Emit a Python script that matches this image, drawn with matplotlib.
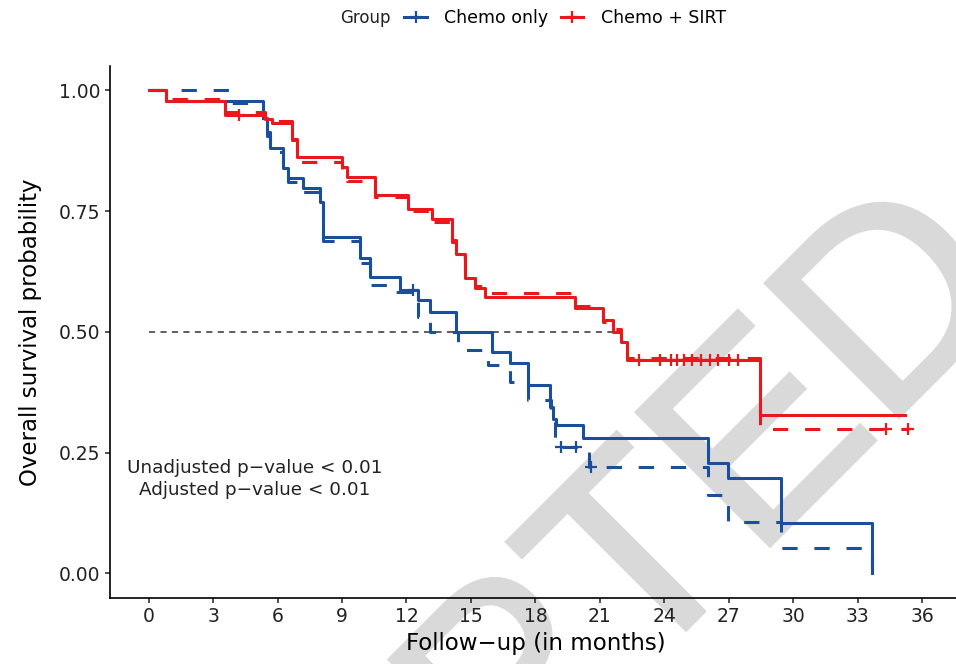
import matplotlib
matplotlib.use("Agg")
import matplotlib.pyplot as plt
import matplotlib.patheffects as pe
from matplotlib.lines import Line2D

blue = "#1a4f9b"
red = "#e8181d"

# Chemo only - unadjusted KM steps (time in months, survival)
chemo_t = [0, 0.8, 5.34, 5.5, 5.65, 6.27, 6.5, 7.2, 7.98, 8.13, 9.84, 10.3, 11.7, 12.55,
           13.1, 14.3, 15.96, 16.8, 17.67, 18.67, 18.8, 18.95, 20.2, 26.04, 26.95, 29.4, 33.64]
chemo_s = [1.0, 0.978, 0.942, 0.914, 0.88, 0.838, 0.818, 0.797, 0.769, 0.697, 0.652, 0.614, 0.587, 0.566,
           0.542, 0.5, 0.459, 0.435, 0.39, 0.345, 0.32, 0.307, 0.2795, 0.228, 0.197, 0.1035, 0.0]
chemo_cens_t = [12.3]
chemo_cens_s = [0.587]

# Chemo only - adjusted
chemo_adj_t = [0, 3.8, 5.34, 5.5, 5.65, 6.27, 6.5, 7.2, 7.98, 8.13, 9.84, 10.3, 11.3, 12.55,
               13.1, 14.4, 15.8, 16.8, 17.67, 18.7, 18.9, 20.5, 26.04, 26.95, 29.4, 33.64]
chemo_adj_s = [1.0, 0.973, 0.937, 0.906, 0.872, 0.83, 0.81, 0.789, 0.76, 0.687, 0.642, 0.597, 0.583, 0.531,
               0.5, 0.462, 0.432, 0.397, 0.36, 0.32, 0.262, 0.221, 0.162, 0.107, 0.052, 0.0]
chemo_adj_cens_t = [19.2, 19.9, 20.6]
chemo_adj_cens_s = [0.262, 0.262, 0.221]

# Chemo + SIRT - unadjusted
sirt_t = [0, 0.8, 3.56, 5.42, 5.73, 6.66, 6.9, 8.99, 9.22, 10.53, 12.05, 13.17, 14.1, 14.3,
          14.72, 15.19, 15.65, 19.84, 21.15, 21.6, 22.0, 22.24, 28.44, 35.19]
sirt_s = [1.0, 0.978, 0.949, 0.94, 0.932, 0.897, 0.8625, 0.842, 0.821, 0.783, 0.754, 0.733, 0.69, 0.662,
          0.611, 0.59, 0.5727, 0.549, 0.524, 0.5, 0.4795, 0.4416, 0.3277, 0.3277]
sirt_cens_t = [4.2, 22.8, 23.8, 24.3, 24.6, 24.9, 25.3, 25.7, 26.1, 26.5, 27.0, 27.4]
sirt_cens_s = [0.949, 0.4416, 0.4416, 0.4416, 0.4416, 0.4416, 0.4416, 0.4416, 0.4416, 0.4416, 0.4416, 0.4416]

# Chemo + SIRT - adjusted
sirt_adj_t = [0, 1.1, 3.56, 5.42, 5.73, 6.66, 6.9, 8.99, 9.22, 10.53, 12.05, 13.17, 14.1, 14.3,
              14.72, 15.19, 15.65, 19.84, 21.15, 21.6, 22.0, 22.24, 28.44, 35.4]
sirt_adj_s = [1.0, 0.982, 0.955, 0.945, 0.937, 0.9, 0.852, 0.835, 0.812, 0.778, 0.75, 0.728, 0.685, 0.655,
              0.615, 0.595, 0.58, 0.553, 0.521, 0.505, 0.47, 0.445, 0.30, 0.30]
sirt_adj_cens_t = [34.3, 35.35]
sirt_adj_cens_s = [0.30, 0.30]

xticks = list(range(0, 37, 3))
yticks = [0.0, 0.25, 0.5, 0.75, 1.0]
ytick_labels = ["0.00", "0.25", "0.50", "0.75", "1.00"]

fig = plt.figure(figsize=(9.56, 6.64), dpi=100)
ax = fig.add_axes([0.1149, 0.0999, 0.8904, 0.8007])
ax.patch.set_visible(False)

# watermark behind everything
fig.text(-0.032, -1.027, "ACCEPTED", fontsize=197, rotation=45, rotation_mode="anchor",
         ha="left", va="baseline", color="#d9d9d9", family="Liberation Sans", zorder=-5,
         path_effects=[pe.withStroke(linewidth=3, foreground="#d9d9d9", joinstyle="miter",
                                     capstyle="projecting")])

lw = 2.2
dash = (0, (5, 5.5))
ax.step(chemo_t, chemo_s, where="post", color=blue, lw=lw)
ax.step(chemo_adj_t, chemo_adj_s, where="post", color=blue, lw=lw, ls=dash)
ax.plot(chemo_cens_t, chemo_cens_s, "+", color=blue, ms=9, mew=1.6)
ax.plot(chemo_adj_cens_t, chemo_adj_cens_s, "+", color=blue, ms=9, mew=1.6)

ax.step(sirt_t, sirt_s, where="post", color=red, lw=lw)
ax.step(sirt_adj_t, sirt_adj_s, where="post", color=red, lw=lw, ls=dash)
ax.plot(sirt_cens_t, sirt_cens_s, "+", color=red, ms=9, mew=1.6)
ax.plot(sirt_adj_cens_t, sirt_adj_cens_s, "+", color=red, ms=9, mew=1.6)

# median line up to the SIRT median
median_t = next(t for t, s in zip(sirt_t, sirt_s) if s <= 0.5)
ax.plot([0, median_t], [0.5, 0.5], color="#333333", lw=1.1, ls=(0, (4, 3.5)), zorder=1)

ax.text(4.95, 0.196, "Unadjusted p\u2212value < 0.01\nAdjusted p\u2212value < 0.01",
        ha="center", va="center", fontsize=13.2, color="#222222", linespacing=1.25)

ax.set_xlim(-1.8, 37.8)
ax.set_ylim(-0.05, 1.05)
ax.set_xticks(xticks)
ax.set_yticks(yticks)
ax.set_yticklabels(ytick_labels)
ax.tick_params(labelsize=13.5, length=3.5, width=1.1, colors="#222222")
for side in ["top", "right"]:
    ax.spines[side].set_visible(False)
for side in ["left", "bottom"]:
    ax.spines[side].set_linewidth(1.2)
ax.set_xlabel("Follow\u2212up (in months)", fontsize=16.5, labelpad=4)
ax.set_ylabel("Overall survival probability", fontsize=16.5, labelpad=12)

# legend at the top
fig.text(0.356, 0.973, "Group", ha="left", va="center", fontsize=12, color="#222222")
handles = [Line2D([], [], color=blue, lw=2.2, marker="+", ms=9, mew=1.6),
           Line2D([], [], color=red, lw=2.2, marker="+", ms=9, mew=1.6)]
fig.legend(handles, ["Chemo only", "Chemo + SIRT"], loc="center left", bbox_to_anchor=(0.423, 0.973),
           ncol=2, frameon=False, fontsize=12.5, handlelength=1.3, handletextpad=1.0,
           columnspacing=0.7, borderpad=0, borderaxespad=0)

fig.savefig("out.png", dpi=100, facecolor="white")
